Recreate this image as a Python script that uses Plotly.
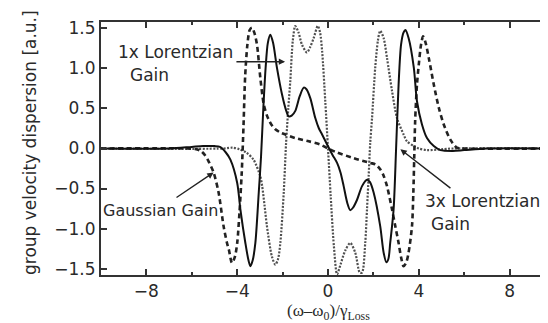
import plotly.graph_objects as go

# ---- data ----
x_solid = [-10, -7, -6, -5.5, -5.0, -4.76, -4.5, -4.3, -4.0, -3.86, -3.64, -3.5, -3.42, -3.32, -3.2,
           -3.05, -2.95, -2.85, -2.75, -2.65, -2.54, -2.42, -2.25, -2.03, -1.85, -1.73, -1.6, -1.44,
           -1.25, -1.07, -0.95, -0.78, -0.56, -0.4, -0.26, -0.04, 0.2, 0.4, 0.55, 0.69, 0.85, 0.98,
           1.1, 1.28, 1.5, 1.72, 1.85, 2.01, 2.3, 2.45, 2.57, 2.66, 2.74, 2.89, 3.0, 3.11, 3.22, 3.33,
           3.41, 3.55, 3.78, 3.92, 4.14, 4.36, 4.66, 4.95, 5.5, 6.0, 7, 10]
y_solid = [0, 0, 0.02, 0.03, 0.03, 0.02, -0.05, -0.14, -0.43, -0.76, -1.18, -1.40, -1.47, -1.40, -1.18,
           -0.55, -0.1, 0.5, 1.0, 1.32, 1.42, 1.32, 1.01, 0.68, 0.48, 0.40, 0.41, 0.47,
           0.65, 0.76, 0.74, 0.63, 0.38, 0.25, 0.175, 0.05, -0.08, -0.18, -0.3, -0.47, -0.68, -0.77,
           -0.74, -0.64, -0.47, -0.39, -0.42, -0.55, -0.97, -1.3, -1.42, -1.38, -1.18, -0.76, 0.0, 0.8, 1.3, 1.45,
           1.48, 1.38, 1.01, 0.59, 0.30, 0.13, 0.03, -0.02, -0.03, -0.02, 0, 0]

x_dash = [-10, -6.2, -5.8, -5.6, -5.4, -5.26, -5.04, -4.82, -4.6, -4.45, -4.37, -4.23, -4.1, -4.0,
          -3.9, -3.8, -3.72, -3.65, -3.55, -3.45, -3.35, -3.25, -3.13, -2.98, -2.83, -2.7, -2.61,
          -2.45, -2.32, -2.1, -1.88, -1.44, -0.85, -0.34, 0, 0.4, 1.13, 1.86, 2.1, 2.3, 2.45, 2.6,
          2.82, 2.95, 3.11, 3.22, 3.33, 3.45, 3.55, 3.7, 3.76, 3.8, 3.84, 3.92, 4.0, 4.1, 4.19, 4.3,
          4.44, 4.66, 4.88, 5.1, 5.39, 5.68, 6.0, 10]
y_dash = [0, 0, -0.01, -0.03, -0.09, -0.16, -0.30, -0.55, -0.97, -1.18, -1.26, -1.43, -1.35, -1.18,
          -0.8, -0.3, 0.3, 0.9, 1.3, 1.48, 1.51, 1.45, 1.30, 0.88, 0.55, 0.42, 0.36,
          0.28, 0.24, 0.2, 0.175, 0.13, 0.09, 0.05, 0, -0.05, -0.12, -0.18, -0.2, -0.26, -0.34, -0.47,
          -0.76, -0.95, -1.18, -1.36, -1.47, -1.42, -1.30, -0.97, -0.55, -0.1, 0.35, 0.8, 1.05, 1.3, 1.40, 1.32,
          1.13, 0.8, 0.51, 0.3, 0.11, 0.01, 0, 0]

x_dot = [-10, -4.6, -4.2, -3.9, -3.6, -3.28, -2.98, -2.9, -2.8, -2.69, -2.47, -2.32, -2.2, -2.1,
         -1.95, -1.85, -1.75, -1.66, -1.55, -1.44, -1.3, -1.15, -0.93, -0.78, -0.63, -0.45, -0.35,
         -0.26, -0.12, 0, 0.12, 0.26, 0.4, 0.55, 0.75, 0.98, 1.2, 1.4, 1.5, 1.64, 1.72, 1.79, 1.86,
         1.94, 2.08, 2.2, 2.3, 2.45, 2.6, 2.82, 3.04, 3.33, 3.48, 3.78, 4.0, 4.36, 5.0, 5.5, 10]
y_dot = [0, 0, 0.01, -0.01, -0.05, -0.14, -0.35, -0.47, -0.7, -0.97, -1.35, -1.45, -1.38, -1.18,
         -0.55, 0.05, 0.5, 0.85, 1.35, 1.53, 1.45, 1.30, 1.20, 1.27, 1.38, 1.53, 1.45,
         1.22, 0.59, 0.0, -0.6, -1.22, -1.57, -1.45, -1.28, -1.18, -1.3, -1.55, -1.55, -1.18, -0.75, -0.35, 0.07,
         0.38, 1.01, 1.35, 1.47, 1.38, 1.13, 0.72, 0.38, 0.175, 0.09, 0.03, 0.0, -0.02, -0.01, 0, 0]

x_ticks = [-8, -4, 0, 4, 8]
y_ticks = [-1.5, -1.0, -0.5, 0.0, 0.5, 1.0, 1.5]

FONT = "DejaVu Sans, Verdana, sans-serif"
TXT = "#2a2a2a"

W, H = 548, 323
L, R, T, B = 93, 1, 14, 56
pw, ph = W - L - R, H - T - B

fig = go.Figure()
fig.add_trace(go.Scatter(x=x_dot, y=y_dot, mode="lines",
                         line=dict(color="#505050", width=2.2, dash="2px,1.5px", shape="spline", smoothing=0.8)))
fig.add_trace(go.Scatter(x=x_dash, y=y_dash, mode="lines",
                         line=dict(color="#222", width=2.6, dash="5px,3.5px", shape="spline", smoothing=0.8)))
fig.add_trace(go.Scatter(x=x_solid, y=y_solid, mode="lines",
                         line=dict(color="#111", width=2, shape="spline", smoothing=0.8)))

axis_common = dict(showline=True, linewidth=2, linecolor="#333", mirror="ticks",
                   ticks="inside", tickcolor="#333", tickwidth=1.5, showgrid=False, zeroline=False,
                   automargin=False, tickfont=dict(family=FONT, size=17, color=TXT))
fig.update_xaxes(range=[-10, 10], tickvals=x_ticks, ticklen=6,
                 minor=dict(dtick=2, tick0=0, ticks="inside", ticklen=3, tickcolor="#333", showgrid=False),
                 **axis_common)
fig.update_yaxes(range=[-1.58, 1.58], tickvals=y_ticks, tickformat=".1f", ticklen=6, **axis_common)

texts = [("1x Lorentzian", -9.30, 1.21, 17), ("Gain", -8.77, 0.915, 17), ("Gaussian Gain", -9.96, -0.78, 16),
         ("3x Lorentzian", 4.22, -0.66, 17), ("Gain", 4.49, -0.94, 17)]
for t, x, y, s in texts:
    fig.add_annotation(text=t, x=x, y=y, xref="x", yref="y", xanchor="left", yanchor="middle",
                       showarrow=False, font=dict(family=FONT, size=s, color=TXT), borderpad=0)

arrows = [(-1.89, 1.084, -4.10, 1.084), (-5.04, -0.30, -6.74, -0.625), (3.19, -0.01, 5.46, -0.51)]
for x, y, ax, ay in arrows:
    fig.add_annotation(text="", x=x, y=y, ax=ax, ay=ay, xref="x", yref="y", axref="x", ayref="y",
                       showarrow=True, arrowhead=2, arrowsize=0.9, arrowwidth=1.4, arrowcolor="#222")

fig.add_annotation(text="group velocity dispersion [a.u.]", textangle=-90,
                   x=(22 - L) / pw, y=(H - B - 135) / ph, xanchor="center", yanchor="middle",
                   xref="paper", yref="paper", showarrow=False,
                   font=dict(family=FONT, size=17, color=TXT))
fig.add_annotation(text="(ω–ω<sub>0</sub>)/γ<sub>Loss</sub>",
                   x=(320 - L) / pw, y=(H - B - 304) / ph, xanchor="center", yanchor="middle",
                   xref="paper", yref="paper", showarrow=False,
                   font=dict(family="Liberation Serif, serif", size=17, color=TXT))

fig.update_layout(width=W, height=H, margin=dict(l=L, r=R, t=T, b=B, autoexpand=False),
                  plot_bgcolor="white", paper_bgcolor="white", showlegend=False)
fig.write_html("out.html")
